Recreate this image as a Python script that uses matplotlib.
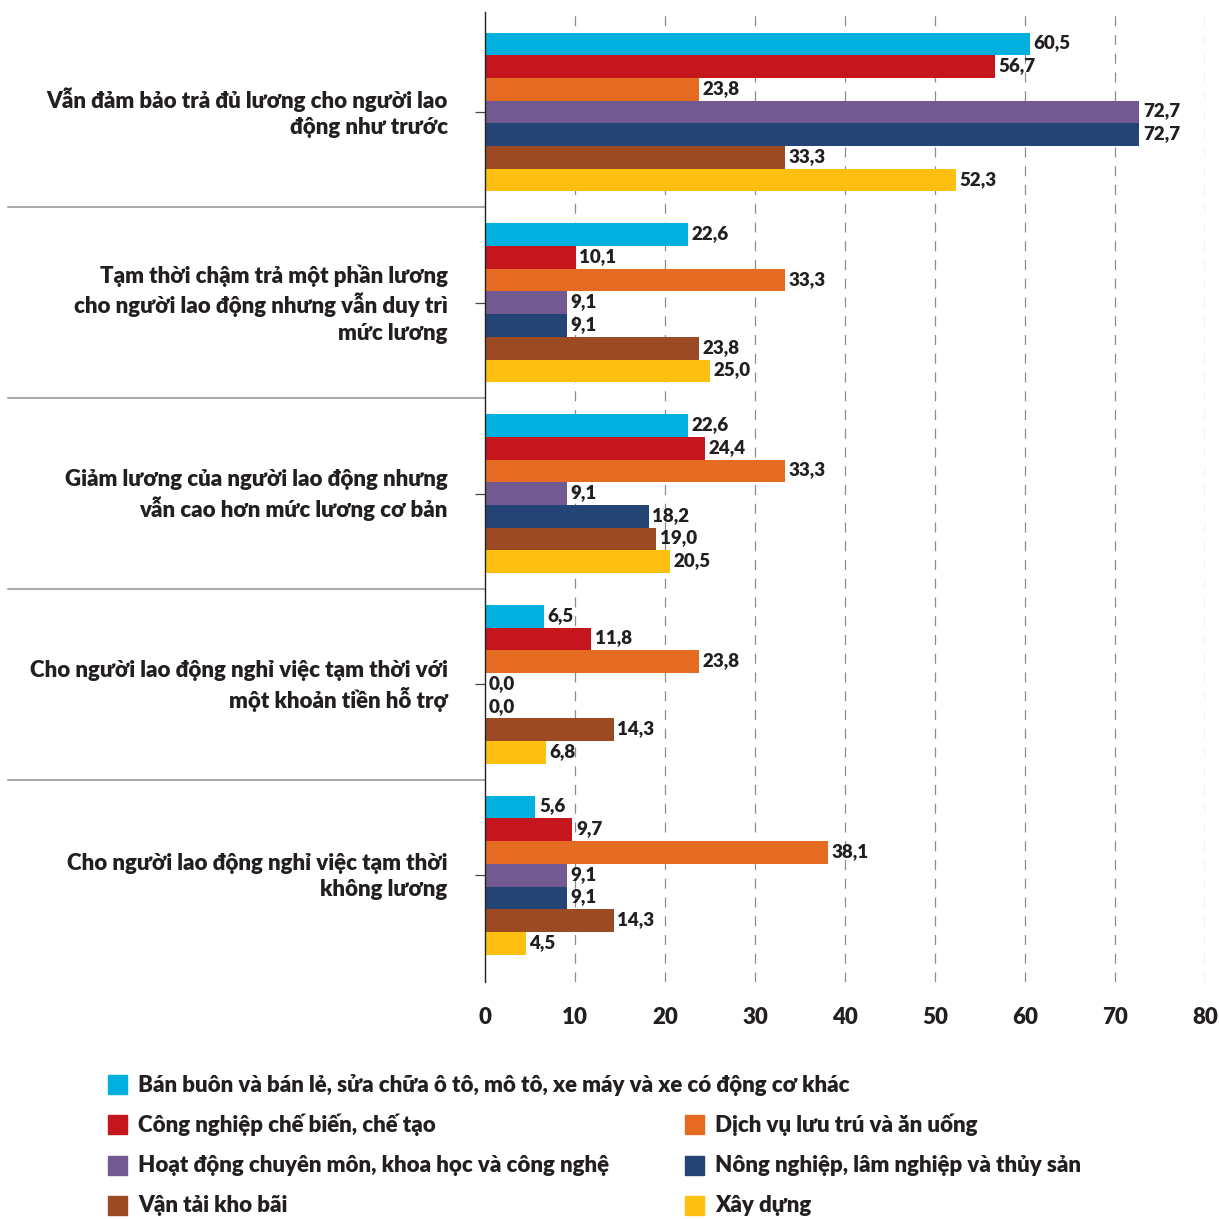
import numpy as np
import matplotlib.pyplot as plt
from matplotlib.patches import Rectangle
from matplotlib.transforms import blended_transform_factory, ScaledTranslation

plt.rcParams['font.family'] = ['Lato', 'DejaVu Sans']
plt.rcParams['font.weight'] = 'heavy'

# nhóm giải pháp về lương
categories = [
    'Vẫn đảm bảo trả đủ lương cho người lao\nđộng như trước',
    'Tạm thời chậm trả một phần lương\ncho người lao động nhưng vẫn duy trì\nmức lương',
    'Giảm lương của người lao động nhưng\nvẫn cao hơn mức lương cơ bản',
    'Cho người lao động nghỉ việc tạm thời với\nmột khoản tiền hỗ trợ',
    'Cho người lao động nghỉ việc tạm thời\nkhông lương',
]

# ngành kinh tế
series_names = [
    'Bán buôn và bán lẻ, sửa chữa ô tô, mô tô, xe máy và xe có động cơ khác',
    'Công nghiệp chế biến, chế tạo',
    'Dịch vụ lưu trú và ăn uống',
    'Hoạt động chuyên môn, khoa học và công nghệ',
    'Nông nghiệp, lâm nghiệp và thủy sản',
    'Vận tải kho bãi',
    'Xây dựng',
]
colors = ['#00B0DE', '#C4161C', '#E56A22', '#725A90', '#244476', '#9C4A23', '#FDC010']

ban_buon = [60.5, 22.6, 22.6, 6.5, 5.6]
cong_nghiep = [56.7, 10.1, 24.4, 11.8, 9.7]
dich_vu = [23.8, 33.3, 33.3, 23.8, 38.1]
chuyen_mon = [72.7, 9.1, 9.1, 0.0, 9.1]
nong_nghiep = [72.7, 9.1, 18.2, 0.0, 9.1]
van_tai = [33.3, 23.8, 19.0, 14.3, 14.3]
xay_dung = [52.3, 25.0, 20.5, 6.8, 4.5]
values = [ban_buon, cong_nghiep, dich_vu, chuyen_mon, nong_nghiep, van_tai, xay_dung]

x_ticks = [0, 10, 20, 30, 40, 50, 60, 70, 80]

txt_color = '#231F20'
W = H = 1219
fig = plt.figure(figsize=(W / 100, H / 100), dpi=100)
ax = fig.add_axes([485 / W, 1 - 982 / H, 720 / W, 970 / H])

n = len(series_names)
bar_h = 0.119
y = np.arange(len(categories))
for k in range(n):
    pos = y - bar_h * (n - 1) / 2 + k * bar_h
    ax.barh(pos, values[k], height=bar_h, color=colors[k], zorder=3)
    for p, v in zip(pos, values[k]):
        ax.text(v + 0.4, p - 0.005, f'{v:.1f}'.replace('.', ','), va='center', ha='left',
                fontsize=13.5, color=txt_color, zorder=4)

ax.set_xlim(0, 80)
ax.set_ylim(4.56, -0.524)
ax.set_xticks(x_ticks)
ax.set_xticklabels([str(t) for t in x_ticks], fontsize=16, color=txt_color)
ax.tick_params(axis='x', length=0, pad=18)
ax.set_yticks(y)
ax.set_yticklabels(categories, fontsize=16, color=txt_color, linespacing=1.3)
ax.tick_params(axis='y', length=7, width=0.9, pad=20, color='#444444')
# nhích nhãn nhóm lên một chút
for lbl in ax.get_yticklabels():
    lbl.set_transform(lbl.get_transform() + ScaledTranslation(0, 3.5 / 100, fig.dpi_scale_trans))

for s in ['top', 'right', 'bottom']:
    ax.spines[s].set_visible(False)
ax.spines['left'].set_color('#222222')
ax.spines['left'].set_linewidth(1.0)
ax.spines['left'].set_zorder(5)

# lưới dọc nét đứt
for t in x_ticks[1:]:
    ax.axvline(t, color='#8C8C8C', lw=0.9, ls=(0, (8, 7)), zorder=1)

# đường phân cách giữa các nhóm
tr = blended_transform_factory(ax.transAxes, ax.transData)
for b in y[:-1] + 0.5:
    ax.plot([-(485 - 8) / 720, 0], [b, b], transform=tr, color='#9A9A9A', lw=1.2,
            clip_on=False, zorder=2)

# chú thích
legend_pos = [(108, 1085), (108, 1125), (685, 1125), (108, 1166), (685, 1166), (108, 1206), (685, 1206)]
for (lx, ly), name, c in zip(legend_pos, series_names, colors):
    fig.patches.append(Rectangle((lx / W, 1 - (ly + 9) / H), 19 / W, 19 / H,
                                 transform=fig.transFigure, color=c))
    fig.text((lx + 30) / W, 1 - ly / H, name, ha='left', va='center', fontsize=16,
             color=txt_color)

fig.savefig('out.png', dpi=100)
